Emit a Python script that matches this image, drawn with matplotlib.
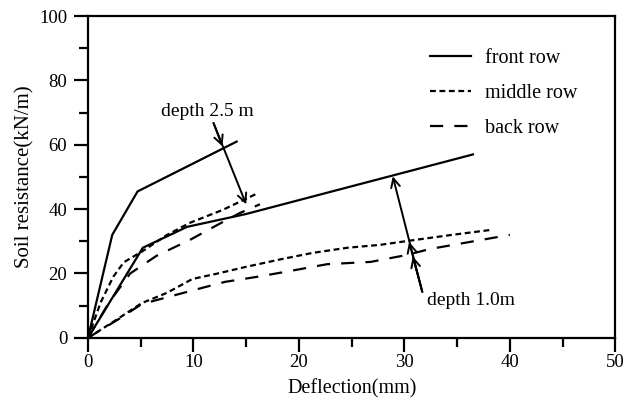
import matplotlib
matplotlib.use('Agg')
import matplotlib.pyplot as plt

plt.rcParams['font.family'] = ['Liberation Serif', 'DejaVu Serif']
plt.rcParams['lines.scale_dashes'] = False

# depth 2.5 m curves
front_25_x = [0, 2.3, 4.7, 14.1]
front_25_y = [0, 32, 45.5, 61]
middle_25_x = [0, 1.2, 2.4, 3.4, 5.2, 7.5, 9.7, 12.8, 16.0]
middle_25_y = [0, 11, 19, 23.5, 27, 32, 35.8, 39.8, 44.8]
back_25_x = [0, 2.0, 4.0, 6.5, 9.7, 12.5, 14.4, 16.3]
back_25_y = [0, 11, 20, 25.5, 30.5, 35.5, 38.8, 41.5]

# depth 1.0 m curves
front_10_x = [0, 5.2, 9.4, 15.0, 36.5]
front_10_y = [0, 28, 34.5, 38.5, 57]
middle_10_x = [0, 2.5, 5.1, 7.5, 9.9, 12.3, 14.9, 18.4, 21.3, 24.6, 27.7, 30.5, 34.5, 38.1]
middle_10_y = [0, 5.2, 10.8, 14, 18.3, 20, 22, 24.5, 26.4, 28, 28.9, 30.2, 32, 33.5]
back_10_x = [0, 2.8, 5.1, 7.6, 10.1, 13.0, 16.1, 18.7, 22.7, 26.8, 30.3, 32.4, 36.2, 40.0]
back_10_y = [0, 5.6, 10.5, 12.7, 14.9, 17.4, 19, 20.5, 22.9, 23.6, 25.8, 27.6, 29.8, 32]

fig, ax = plt.subplots(figsize=(6.33, 4.13), dpi=100)
fig.subplots_adjust(left=0.139, right=0.972, top=0.961, bottom=0.182)

solid = dict(color='black', lw=1.6, linestyle='-')
dotted = dict(color='black', lw=1.6, linestyle=(0, (4.2, 2.6)))
dashed = dict(color='black', lw=1.6, linestyle=(0, (9.5, 8.0)))

ax.plot(front_25_x, front_25_y, label='front row', **solid)
ax.plot(middle_25_x, middle_25_y, label='middle row', **dotted)
ax.plot(back_25_x, back_25_y, label='back row', **dashed)
ax.plot(front_10_x, front_10_y, **solid)
ax.plot(middle_10_x, middle_10_y, **dotted)
ax.plot(back_10_x, back_10_y, **dashed)

arrow = dict(arrowstyle='->', color='black', lw=1.4, mutation_scale=16, shrinkA=0, shrinkB=0)

# depth 2.5 m arrow with a head where it crosses the front row curve
ax.annotate('', xy=(15.0, 41.5), xytext=(11.9, 66.8), arrowprops=arrow)
ax.annotate('', xy=(12.75, 59.5), xytext=(11.9, 66.8), arrowprops=arrow)
ax.text(11.3, 70.5, 'depth 2.5 m', fontsize=14, ha='center', va='center')

# depth 1.0 m arrow pointing up through the middle and back row curves
ax.annotate('', xy=(28.9, 50.2), xytext=(31.7, 14.3), arrowprops=arrow)
ax.annotate('', xy=(30.45, 29.8), xytext=(31.7, 14.3), arrowprops=arrow)
ax.annotate('', xy=(30.8, 25.3), xytext=(31.7, 14.3), arrowprops=arrow)
ax.text(32.1, 11.5, 'depth 1.0m', fontsize=14, ha='left', va='center')

ax.set_xlim(0, 50)
ax.set_ylim(0, 100)
ax.set_xticks(range(0, 51, 10))
ax.set_xticks(range(5, 50, 10), minor=True)
ax.set_yticks(range(0, 101, 20))
ax.set_yticks(range(10, 100, 20), minor=True)
ax.tick_params(which='both', direction='out', width=1.6, labelsize=13.5, top=False, right=False)
ax.tick_params(which='major', length=10)
ax.tick_params(which='minor', length=6.5)
ax.tick_params(axis='x', pad=1.5)
ax.tick_params(axis='y', pad=5)
for s in ax.spines.values():
    s.set_linewidth(1.6)

ax.set_xlabel('Deflection(mm)', fontsize=14.5, labelpad=6)
ax.set_ylabel('Soil resistance(kN/m)', fontsize=15, labelpad=3)

ax.legend(loc='upper left', bbox_to_anchor=(0.615, 0.955), frameon=False, fontsize=14.5,
          handlelength=2.0, handletextpad=0.7, labelspacing=0.8)

fig.savefig('out.png', dpi=100)
